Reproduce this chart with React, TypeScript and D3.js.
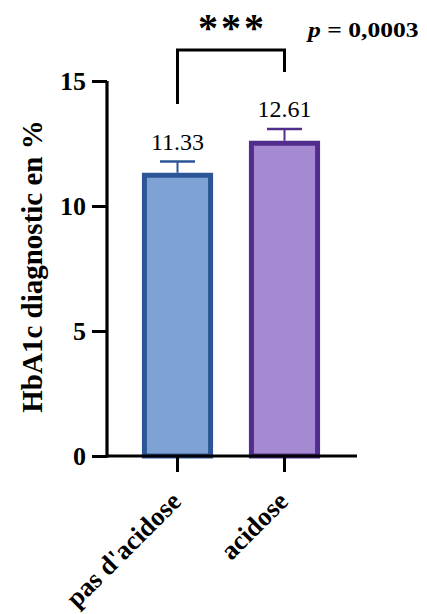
import React, { useEffect, useRef } from "react";
import * as d3 from "d3";

const categories = ["pas d'acidose", "acidose"];
const means = [11.33, 12.61];
const sems = [0.45, 0.47];
const meanLabels = ["11.33", "12.61"];
const yTicks = [0, 5, 10, 15];
const fills = ["#7ea2d4", "#a58ad1"];
const strokes = ["#2c5596", "#522d8d"];
const yTitle = "HbA1c diagnostic en %";
const stars = "***";
const pLabel = "0,0003";

const W = 427;
const H = 614;
const FONT = "'Liberation Serif', 'Times New Roman', serif";

export default function App() {
  const yAxisRef = useRef<SVGGElement>(null);
  const xAxisRef = useRef<SVGGElement>(null);

  const y = d3.scaleLinear().domain([0, 15]).range([456, 81]);
  const x = d3
    .scaleBand<string>()
    .domain(categories)
    .range([124, 338])
    .paddingInner(0.335)
    .paddingOuter(0.1675);

  const axisX0 = 107;
  const axisX1 = 357;
  const sw = 5;

  useEffect(() => {
    if (yAxisRef.current) {
      const g = d3.select(yAxisRef.current);
      g.selectAll("*").remove();
      g.call(
        d3
          .axisLeft(y)
          .tickValues(yTicks)
          .tickSize(15)
          .tickPadding(6)
          .tickFormat(d3.format("d"))
      );
      g.select(".domain")
        .attr("d", `M0,${y(15)}V${y(0) + 1.5}`)
        .attr("stroke", "#000")
        .attr("stroke-width", 3.2);
      g.selectAll(".tick line").attr("stroke", "#000").attr("stroke-width", 3);
      g.selectAll(".tick text")
        .attr("fill", "#000")
        .style("font-family", FONT)
        .style("font-size", "26px")
        .style("font-weight", "bold")
        .attr("dy", "0.34em");
    }
    if (xAxisRef.current) {
      const g = d3.select(xAxisRef.current);
      g.selectAll("*").remove();
      g.call(d3.axisBottom(x).tickSize(16).tickPadding(0));
      g.select(".domain").remove();
      g.selectAll(".tick line").attr("stroke", "#000").attr("stroke-width", 3);
      g.selectAll(".tick text")
        .attr("fill", "#000")
        .attr("y", 0)
        .attr("dy", 0)
        .attr("text-anchor", "end")
        .attr("transform", "translate(5,47) rotate(-45)")
        .style("font-family", FONT)
        .style("font-size", "26.5px")
        .style("font-weight", "bold");
    }
  }, []);

  const bw = x.bandwidth();
  const capW = 35;

  const leftX = (x(categories[0]) ?? 0) + bw / 2;
  const rightX = (x(categories[1]) ?? 0) + bw / 2;

  return (
    <svg
      width={W}
      height={H}
      style={{ position: "absolute", left: 0, top: 0, background: "#fff" }}
      fontFamily={FONT}
    >
      {/* bars */}
      {categories.map((c, i) => {
        const x0 = (x(c) ?? 0) + sw / 2;
        const yTop = y(means[i]) + sw / 2;
        const cx = (x(c) ?? 0) + bw / 2;
        const yCap = y(means[i] + sems[i]);
        return (
          <g key={c}>
            <line
              x1={cx}
              x2={cx}
              y1={y(means[i])}
              y2={yCap}
              stroke={strokes[i]}
              strokeWidth={2}
            />
            <line
              x1={cx - capW / 2}
              x2={cx + capW / 2}
              y1={yCap}
              y2={yCap}
              stroke={strokes[i]}
              strokeWidth={2.5}
            />
            <rect
              x={x0}
              y={yTop}
              width={bw - sw}
              height={y(0) - yTop}
              fill={fills[i]}
              stroke={strokes[i]}
              strokeWidth={sw}
            />
            <text
              x={cx}
              y={yCap - 12}
              textAnchor="middle"
              fontSize={24}
              fill="#000"
            >
              {meanLabels[i]}
            </text>
          </g>
        );
      })}

      {/* x axis line */}
      <line
        x1={axisX0}
        x2={axisX1}
        y1={y(0)}
        y2={y(0)}
        stroke="#000"
        strokeWidth={3.2}
      />
      <g ref={xAxisRef} transform={`translate(0,${y(0)})`} />
      <g ref={yAxisRef} transform={`translate(${axisX0},0)`} />

      {/* y title */}
      <text
        transform={`translate(42,266.5) rotate(-90)`}
        textAnchor="middle"
        fontSize={29}
        fontWeight="bold"
        fill="#000"
      >
        {yTitle}
      </text>

      {/* significance bracket */}
      <path
        d={`M${leftX},104V50H${rightX}V72`}
        fill="none"
        stroke="#000"
        strokeWidth={3}
      />
      <text
        x={(leftX + rightX) / 2 + 1.5}
        y={41}
        textAnchor="middle"
        fontSize={40}
        fontWeight="bold"
        letterSpacing={3}
        fill="#000"
      >
        {stars}
      </text>
      <g transform="translate(308,37) scale(1.22,1)">
        <text x={0} y={0} fontSize={21} fontWeight="bold" fill="#000">
          <tspan fontStyle="italic">p</tspan>
          <tspan> = {pLabel}</tspan>
        </text>
      </g>
    </svg>
  );
}
